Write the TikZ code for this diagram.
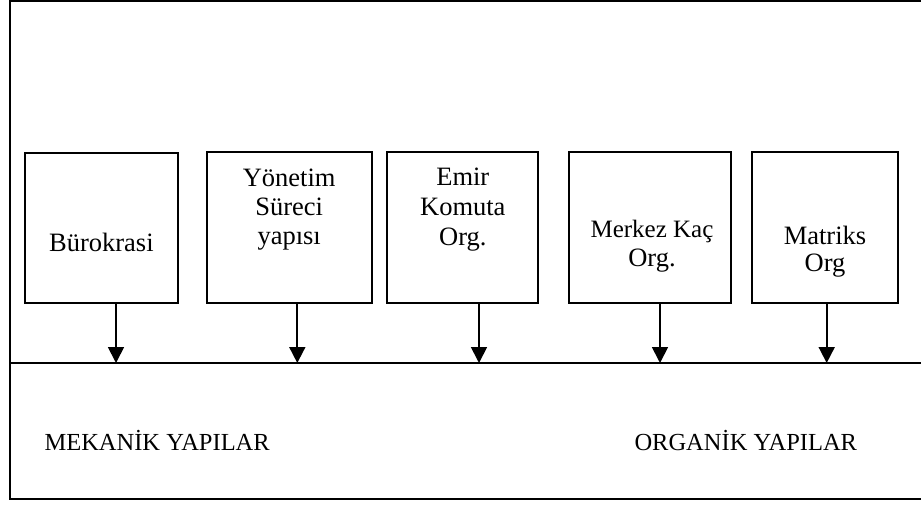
\documentclass[tikz,border=0pt]{standalone}
\usepackage{fontspec}
\setmainfont{Liberation Serif}
\usetikzlibrary{arrows.meta}
\begin{document}
\begin{tikzpicture}[x=1pt,y=-1pt,
  frame/.style={line width=2pt, line cap=rect},
  boxst/.style={draw, line width=2pt, minimum width=#1, minimum height=150pt,
                inner sep=0pt, outer sep=0pt},
  lbl/.style={font=\fontsize{26.5}{29}\selectfont, inner sep=0pt, anchor=base},
  lblsmall/.style={lbl, font=\fontsize{25}{29}\selectfont},
  caption/.style={font=\fontsize{24.5}{29}\selectfont, inner sep=0pt, anchor=base west},
  arr/.style={line width=1.8pt, -{Triangle[width=16pt,length=16pt]}}]
\useasboundingbox (0,0) rectangle (921,505);

% outer frame (open on the right) and the dividing line
\coordinate (ftr) at (921,1);
\coordinate (ftl) at (10,1);
\coordinate (fbl) at (10,499);
\coordinate (fbr) at (921,499);
\coordinate (ml) at (10,363);
\coordinate (mr) at (921,363);
\draw[frame] (ftr) -- (ftl) -- (fbl) -- (fbr);
\draw[line width=2pt] (ml) -- (mr);

% the five structure boxes
\node[boxst=152.7pt] (b1) at (101.4,227.6) {};
\node[boxst=165pt]   (b2) at (289.2,227.5) {};
\node[boxst=151pt]   (b3) at (462.8,227.5) {};
\node[boxst=161.7pt] (b4) at (650.2,227.5) {};
\node[boxst=146.6pt] (b5) at (825,227.5) {};

% box texts
\node[lbl] (t1) at (101.4,251.7) {Bürokrasi};

\node[lbl] (t2a) at (289.2,186.5) {Yönetim};
\node[lbl] (t2b) at (289.2,215.8) {Süreci};
\node[lbl] (t2c) at (289.2,244.5) {yapısı};

\node[lbl] (t3a) at (462.8,186) {Emir};
\node[lbl] (t3b) at (462.8,216) {Komuta};
\node[lbl] (t3c) at (462.8,246) {Org.};

\node[lblsmall] (t4a) at (652,237.3) {Merkez Kaç};
\node[lbl]      (t4b) at (652,266.7) {Org.};

\node[lbl] (t5a) at (825,244) {Matriks};
\node[lbl] (t5b) at (825,271.7) {Org};

% arrows down to the dividing line
\coordinate (a1) at (116,363);
\coordinate (a2) at (297.3,363);
\coordinate (a3) at (479,363);
\coordinate (a4) at (660,363);
\coordinate (a5) at (826.7,363);
\draw[arr] (b1.south -| a1) -- (a1);
\draw[arr] (b2.south -| a2) -- (a2);
\draw[arr] (b3.south -| a3) -- (a3);
\draw[arr] (b4.south -| a4) -- (a4);
\draw[arr] (b5.south -| a5) -- (a5);

% captions
\node[caption] (mek) at (44.3,450) {MEKANİK YAPILAR};
\node[caption] (org) at (634.3,450) {ORGANİK YAPILAR};
\end{tikzpicture}
\end{document}
